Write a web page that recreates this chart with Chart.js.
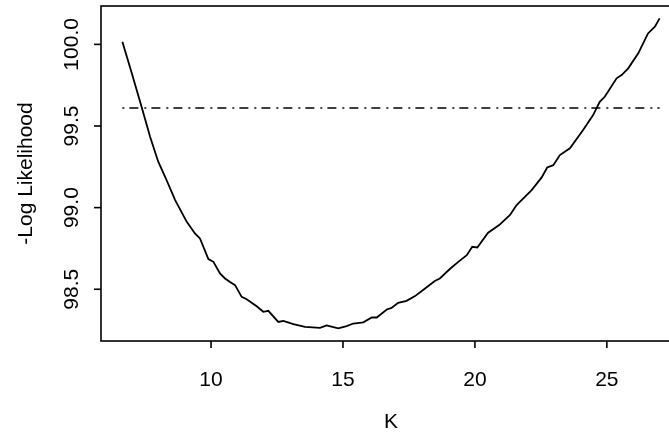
<!DOCTYPE html>
<html>
<head>
<meta charset="utf-8">
<script src="https://cdn.jsdelivr.net/npm/chart.js@4.4.0/dist/chart.umd.min.js"></script>
<style>
  html, body { margin: 0; padding: 0; background: #fff; overflow: hidden; }
  #wrap { width: 669px; height: 438px; overflow: hidden; }
</style>
</head>
<body>
<div id="wrap"><canvas id="likChart" width="700" height="438"></canvas></div>
<script>
// profile of -log likelihood over K
const kValues = [
  6.64, 7.00, 7.40, 7.69, 8.00, 8.26, 8.64, 9.08, 9.39, 9.58,
  9.90, 10.09, 10.34, 10.53, 10.72, 10.91, 11.16, 11.35, 11.73, 11.98,
  12.17, 12.55, 12.74, 13.12, 13.56, 14.13, 14.38, 14.82, 15.14, 15.39,
  15.77, 16.09, 16.28, 16.66, 16.84, 17.09, 17.41, 17.73, 18.11, 18.48,
  18.67, 19.05, 19.37, 19.69, 19.90, 20.09, 20.50, 20.92, 21.33, 21.58,
  21.96, 22.15, 22.53, 22.74, 22.97, 23.22, 23.60, 24.10, 24.48, 24.73,
  24.92, 25.37, 25.56, 25.81, 26.19, 26.56, 26.82, 27.00
];
const negLogLik = [
  100.016, 99.822, 99.600, 99.434, 99.281, 99.189, 99.046, 98.913, 98.842, 98.811,
  98.685, 98.668, 98.597, 98.566, 98.545, 98.525, 98.453, 98.439, 98.396, 98.362,
  98.368, 98.300, 98.306, 98.286, 98.270, 98.264, 98.278, 98.260, 98.274, 98.290,
  98.297, 98.327, 98.327, 98.376, 98.386, 98.417, 98.429, 98.458, 98.505, 98.551,
  98.566, 98.624, 98.668, 98.709, 98.760, 98.756, 98.846, 98.893, 98.955, 99.016,
  99.077, 99.107, 99.185, 99.246, 99.260, 99.322, 99.363, 99.475, 99.567, 99.648,
  99.679, 99.792, 99.812, 99.853, 99.945, 100.067, 100.108, 100.159
];

// cut-off level
const cutoffK = [6.64, 27.00];
const cutoffLevel = [99.61, 99.61];

const xTicks = [10, 15, 20, 25];
const yTicks = [98.5, 99.0, 99.5, 100.0];
const yTickLabels = ['98.5', '99.0', '99.5', '100.0'];

const FONT = '"Liberation Sans", Arial, sans-serif';

// box, ticks and labels in the style of base graphics
const rAxes = {
  id: 'rAxes',
  afterDraw(chart) {
    const { ctx, chartArea: a, scales: { x, y } } = chart;
    ctx.save();
    ctx.strokeStyle = '#000';
    ctx.lineWidth = 1.6;
    ctx.strokeRect(a.left, a.top, a.right - a.left, a.bottom - a.top);

    ctx.fillStyle = '#000';
    ctx.font = '21px ' + FONT;
    ctx.textAlign = 'center';
    ctx.textBaseline = 'middle';

    xTicks.forEach(v => {
      const px = x.getPixelForValue(v);
      ctx.beginPath();
      ctx.moveTo(px, a.bottom);
      ctx.lineTo(px, a.bottom + 7);
      ctx.stroke();
      ctx.fillText(String(v), px, 380);
    });

    yTicks.forEach((v, i) => {
      const py = y.getPixelForValue(v);
      ctx.beginPath();
      ctx.moveTo(a.left, py);
      ctx.lineTo(a.left - 7, py);
      ctx.stroke();
      ctx.save();
      ctx.translate(72, py);
      ctx.rotate(-Math.PI / 2);
      ctx.fillText(yTickLabels[i], 0, 0);
      ctx.restore();
    });

    ctx.fillText('K', (a.left + a.right) / 2, 422);
    ctx.save();
    ctx.translate(26, (a.top + a.bottom) / 2);
    ctx.rotate(-Math.PI / 2);
    ctx.fillText('-Log Likelihood', 0, 0);
    ctx.restore();
    ctx.restore();
  }
};

new Chart(document.getElementById('likChart'), {
  type: 'scatter',
  data: {
    datasets: [
      {
        data: kValues.map((k, i) => ({ x: k, y: negLogLik[i] })),
        showLine: true,
        borderColor: '#000',
        borderWidth: 1.8,
        pointRadius: 0,
        tension: 0
      },
      {
        data: cutoffK.map((k, i) => ({ x: k, y: cutoffLevel[i] })),
        showLine: true,
        borderColor: '#000',
        borderWidth: 1.6,
        borderDash: [2, 5, 9, 6],
        pointRadius: 0
      }
    ]
  },
  options: {
    responsive: false,
    animation: false,
    events: [],
    layout: { padding: { left: 101, top: 6, right: 19, bottom: 97 } },
    plugins: { legend: { display: false }, tooltip: { enabled: false } },
    scales: {
      x: { type: 'linear', min: 5.83, max: 27.81, display: false },
      y: { min: 98.183, max: 100.235, display: false }
    }
  },
  plugins: [rAxes]
});
</script>
</body>
</html>
